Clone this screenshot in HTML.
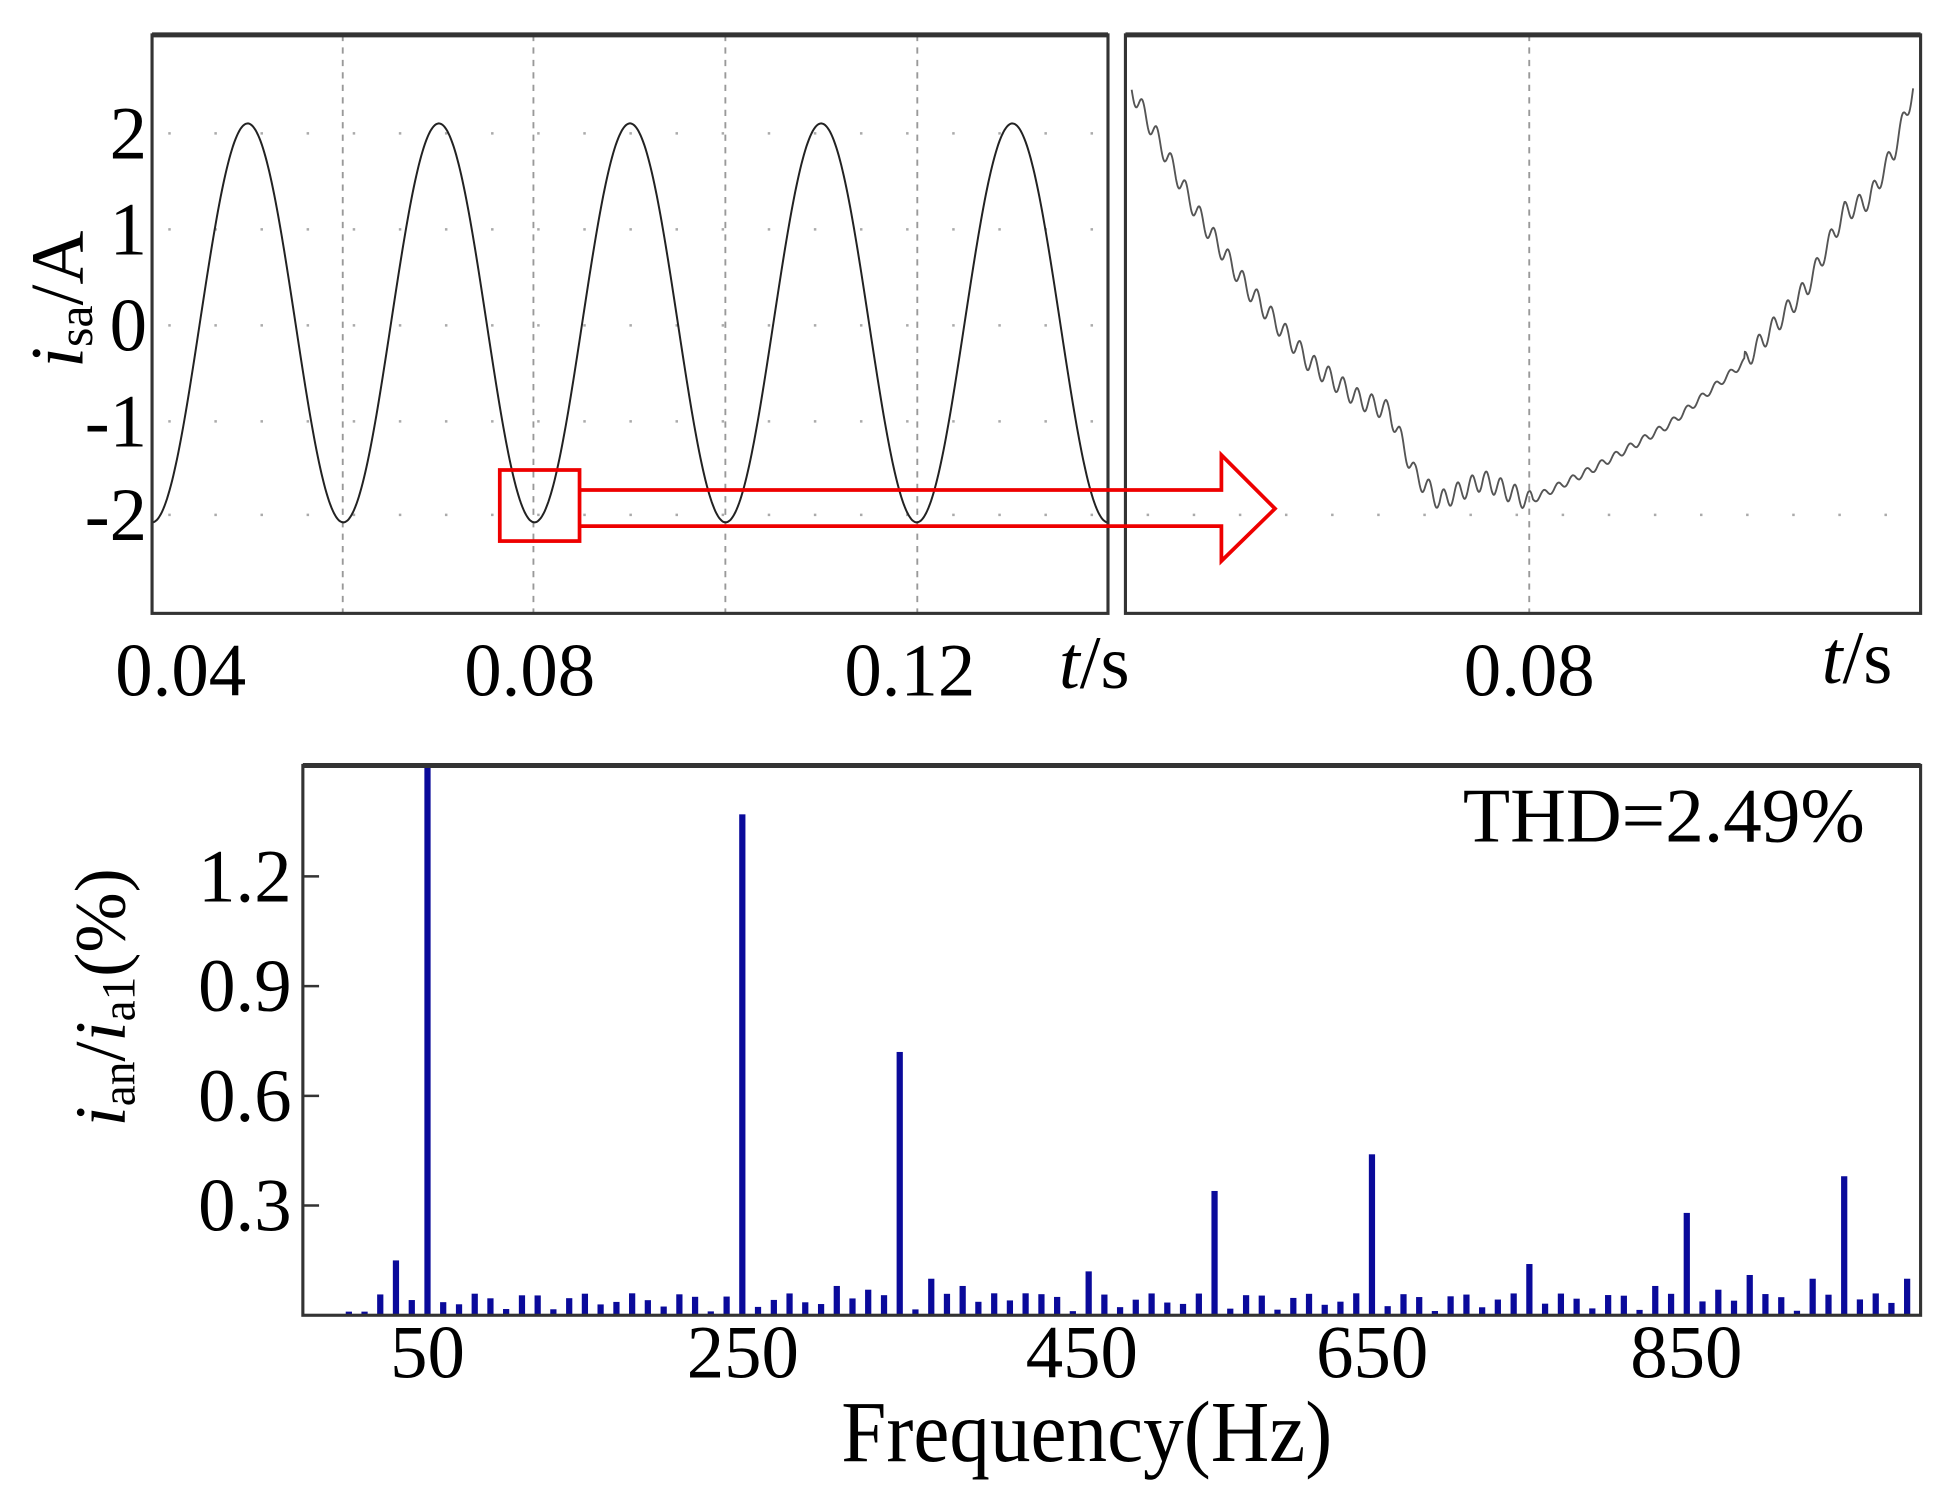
<!DOCTYPE html>
<html><head><meta charset="utf-8"><style>
html,body{margin:0;padding:0;background:#fff;}
svg{display:block;}
text{font-family:"Liberation Serif",serif;fill:#000;}
</style></head><body>
<svg id="s" width="1953" height="1506" viewBox="0 0 1567 1208" preserveAspectRatio="none" xmlns="http://www.w3.org/2000/svg">
<rect width="1567" height="1208" fill="#fff"/>
<g stroke="#999" stroke-width="1.5" stroke-dasharray="5,5" fill="none">
<line x1="275" y1="28" x2="275" y2="492"/><line x1="428" y1="28" x2="428" y2="492"/>
<line x1="582" y1="28" x2="582" y2="492"/><line x1="736" y1="28" x2="736" y2="492"/>
<line x1="1227" y1="28" x2="1227" y2="492"/>
</g>
<g stroke="#aaa" stroke-width="2" stroke-dasharray="2,35" fill="none">
<line x1="135" y1="107" x2="889" y2="107"/><line x1="135" y1="184" x2="889" y2="184"/>
<line x1="135" y1="261" x2="889" y2="261"/><line x1="135" y1="338" x2="889" y2="338"/>
<line x1="135" y1="413" x2="889" y2="413"/><line x1="920" y1="413" x2="1541" y2="413"/>
</g>
<path id="p1" fill="none" stroke="#222" stroke-width="1.6"/>
<path id="p2" fill="none" stroke="#555" stroke-width="1.5"/>
<rect x="122" y="28" width="767" height="464" fill="none" stroke="#333" stroke-width="2.5"/>
<rect x="903" y="28" width="638" height="464" fill="none" stroke="#333" stroke-width="2.5"/>
<line x1="122" y1="28" x2="889" y2="28" stroke="#333" stroke-width="4"/>
<line x1="903" y1="28" x2="1541" y2="28" stroke="#333" stroke-width="4"/>
<g fill="none" stroke="#e00" stroke-width="3">
<rect x="401" y="377" width="64" height="57"/>
<path d="M465,393 H980 V365 L1023,408 L980,450 V422 H465"/>
</g>
<g font-size="60" text-anchor="end">
<text x="118" y="127">2</text><text x="118" y="204">1</text><text x="118" y="281">0</text>
<text x="118" y="358">-1</text><text x="118" y="433">-2</text>
</g>
<text transform="translate(66,240) rotate(-90)" font-size="60" text-anchor="middle"><tspan font-style="italic">i</tspan><tspan font-size="40" dy="8">sa</tspan><tspan dy="-8">/A</tspan></text>
<g font-size="60" text-anchor="middle">
<text x="145" y="558">0.04</text><text x="425" y="558">0.08</text><text x="730" y="558">0.12</text>
<text x="878" y="552"><tspan font-style="italic">t</tspan>/s</text>
<text x="1227" y="558">0.08</text>
<text x="1490" y="548"><tspan font-style="italic">t</tspan>/s</text>
</g>
<g id="bars" fill="#0a0a9a"></g>
<rect x="243" y="614" width="1298" height="441" fill="none" stroke="#333" stroke-width="2.5"/>
<line x1="243" y1="614" x2="1541" y2="614" stroke="#333" stroke-width="4"/>
<g stroke="#333" stroke-width="2">
<line x1="243" y1="703" x2="256" y2="703"/><line x1="243" y1="791" x2="256" y2="791"/>
<line x1="243" y1="879" x2="256" y2="879"/><line x1="243" y1="967" x2="256" y2="967"/>
</g>
<g font-size="60" text-anchor="end">
<text x="234" y="723">1.2</text><text x="234" y="811">0.9</text><text x="234" y="899">0.6</text><text x="234" y="987">0.3</text>
</g>
<g font-size="60" text-anchor="middle">
<text x="343" y="1105">50</text><text x="596" y="1105">250</text><text x="868" y="1105">450</text>
<text x="1101" y="1105">650</text><text x="1353" y="1105">850</text>
</g>
<text transform="translate(872,1172) scale(0.93,1)" font-size="70" text-anchor="middle">Frequency(Hz)</text>
<text x="1335" y="675" font-size="62" text-anchor="middle">THD=2.49%</text>
<text transform="translate(100,800) rotate(-90)" font-size="58" text-anchor="middle"><tspan font-style="italic">i</tspan><tspan font-size="38" dy="8">an</tspan><tspan dy="-8">/</tspan><tspan font-style="italic">i</tspan><tspan font-size="38" dy="8">a1</tspan><tspan dy="-8">(%)</tspan></text>
</svg>
<script>
(function(){
var d="";
for(var x=122;x<=889;x+=1){var y=259+160*Math.cos(2*Math.PI*(x-122)/153.4);d+=(x==122?"M":"L")+x+","+y.toFixed(1);}
document.getElementById("p1").setAttribute("d",d);
var pts=[[908,72],[960,170],[1000,230],[1050,290],[1090,320],[1115,330],[1135,380],[1155,402],[1190,385],[1227,402],[1280,375],[1340,340],[1400,290],[1450,230],[1480,170],[1500,160],[1520,120],[1535,72]];
function base(x){for(var i=0;i<pts.length-1;i++){if(x<=pts[i+1][0]){var t=(x-pts[i][0])/(pts[i+1][0]-pts[i][0]);return pts[i][1]+t*(pts[i+1][1]-pts[i][1]);}}return 72;}
d="";
for(var x=908;x<=1535;x+=0.5){var a=(x>1230&&x<1400)?3:8;var y=base(x)+a*Math.sin(2*Math.PI*(x-908)/11.5);d+=(x==908?"M":"L")+x+","+y.toFixed(1);}
document.getElementById("p2").setAttribute("d",d);
var big={30:0.15,50:1.6,250:1.37,310:0.08,330:0.07,350:0.72,370:0.1,390:0.08,410:0.06,430:0.06,470:0.12,550:0.34,650:0.44,750:0.14,830:0.08,850:0.28,870:0.07,890:0.11,930:0.1,950:0.38,990:0.1};
var g=document.getElementById("bars");
var NS="http://www.w3.org/2000/svg";
for(var f=0;f<=990;f+=10){var v=big[f];if(v===undefined){v=0.01+0.05*Math.abs(Math.sin(f*7.13));if(f<20)v=0.01;}
var bx=343+(f-50)*1.263;var yt=Math.max(614,1055-v*293.3);
var r=document.createElementNS(NS,"rect");
r.setAttribute("x",(bx-2.5).toFixed(1));r.setAttribute("y",yt.toFixed(1));
r.setAttribute("width","5");r.setAttribute("height",(1055-yt).toFixed(1));
g.appendChild(r);}
})();
</script>
</body></html>
